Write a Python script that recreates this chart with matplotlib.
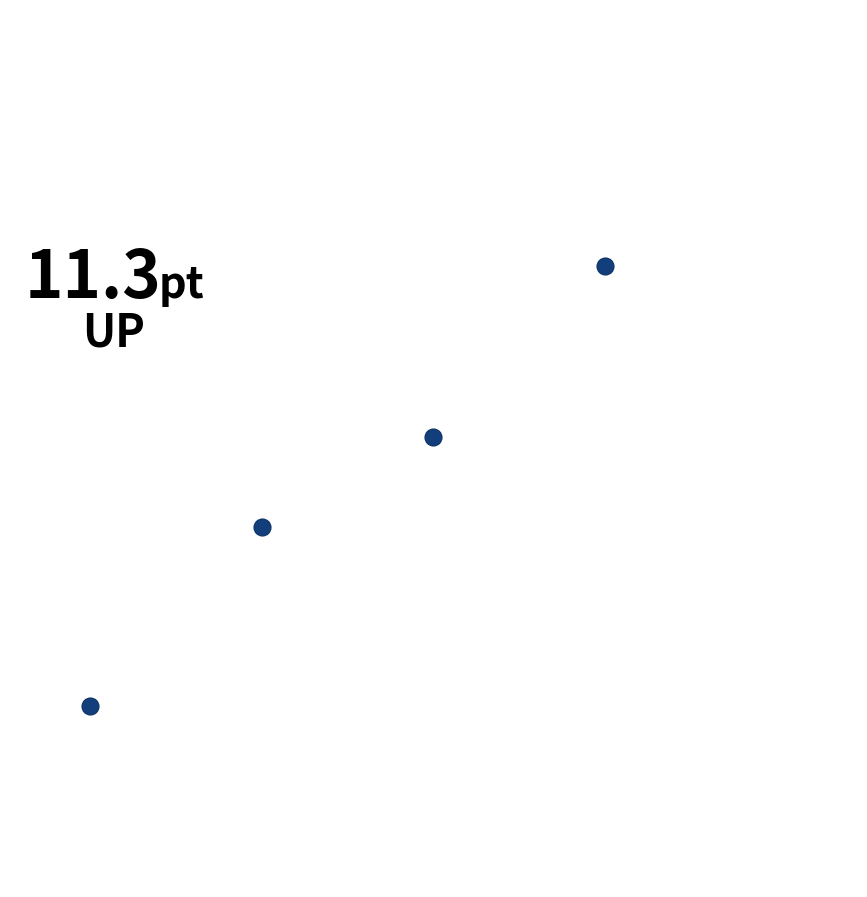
import matplotlib
matplotlib.use("Agg")
import matplotlib.pyplot as plt

# data
steps = [0, 1, 2, 3]
share = [20.0, 24.6, 26.9, 31.3]
change_label = "11.3"
change_unit = "pt"
direction = "UP"

dot_color = "#123f7c"
font = ["Noto Sans CJK JP", "DejaVu Sans"]

fig = plt.figure(figsize=(8.67, 8.97), dpi=100)
ax = fig.add_axes([0, 0, 1, 1])
ax.scatter(steps, share, s=150, color=dot_color, edgecolors="#0c3366", linewidths=0.8, zorder=3)

# px scaling: 171.7 px per step, 38.94 px per point
ax.set_xlim(-90 / 171.7, (867 - 90) / 171.7)
ax.set_ylim(20 - (897 - 706) / 38.94, 20 + 706 / 38.94)
ax.axis("off")

fig.text(25 / 867, 1 - 298 / 897, change_label, fontsize=47, fontweight="bold",
         family=font, ha="left", va="baseline")
fig.text(159 / 867, 1 - 298 / 897, change_unit, fontsize=31, fontweight="bold",
         family=font, ha="left", va="baseline")
fig.text(114 / 867, 1 - 346 / 897, direction, fontsize=32, fontweight="bold",
         family=font, ha="center", va="baseline")

fig.savefig("out.png", dpi=100)
